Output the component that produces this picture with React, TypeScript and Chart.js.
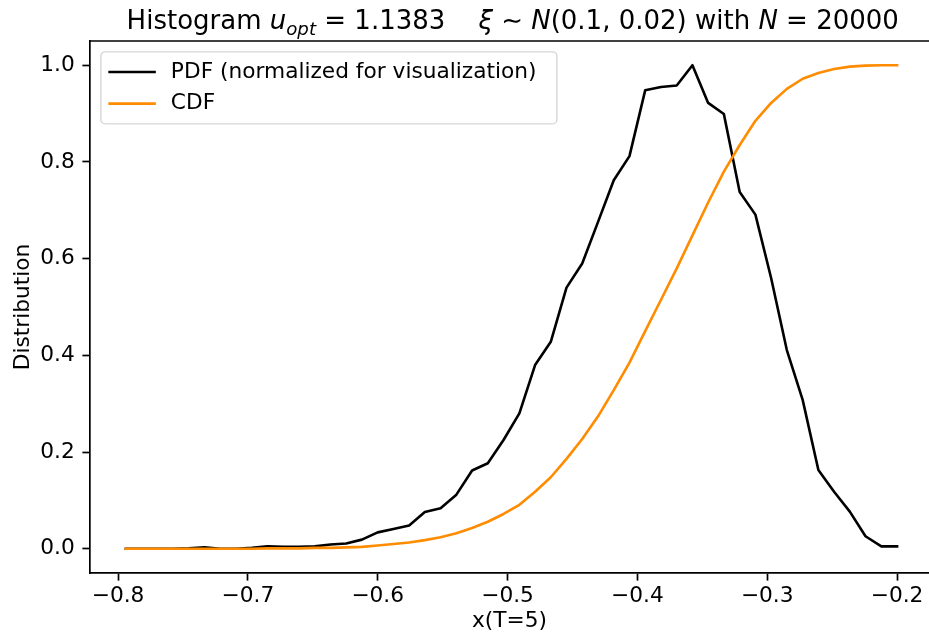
import React, { useEffect, useRef } from 'react';
import { Chart, registerables } from 'chart.js';

Chart.register(...registerables);

// ---- data ----
const xValues = [
  -0.794, -0.7819, -0.7698, -0.7576, -0.7455, -0.7334, -0.7213, -0.7091, -0.697, -0.6849,
  -0.6728, -0.6607, -0.6485, -0.6364, -0.6243, -0.6122, -0.6, -0.5879, -0.5758, -0.5637,
  -0.5516, -0.5394, -0.5273, -0.5152, -0.5031, -0.4909, -0.4788, -0.4667, -0.4546, -0.4425,
  -0.4303, -0.4182, -0.4061, -0.394, -0.3818, -0.3697, -0.3576, -0.3455, -0.3334, -0.3212,
  -0.3091, -0.297, -0.2849, -0.2727, -0.2606, -0.2485, -0.2364, -0.2243, -0.2121, -0.2,
];
const pdfValues = [
  0.0, 0.0, 0.0, 0.0, 0.001, 0.003, 0.0, 0.0, 0.002, 0.005,
  0.004, 0.004, 0.005, 0.009, 0.011, 0.019, 0.034, 0.041, 0.048, 0.076,
  0.084, 0.112, 0.162, 0.177, 0.225, 0.28, 0.38, 0.428, 0.54, 0.59,
  0.676, 0.762, 0.812, 0.948, 0.955, 0.958, 1.0, 0.922, 0.899, 0.738,
  0.691, 0.56, 0.411, 0.308, 0.163, 0.118, 0.077, 0.026, 0.005, 0.005,
];
const cdfValues = [
  0.0, 0.0, 0.0, 0.0, 0.0, 0.0, 0.0, 0.0, 0.0, 0.001,
  0.001, 0.001, 0.002, 0.002, 0.003, 0.004, 0.007, 0.01, 0.013, 0.018,
  0.024, 0.032, 0.043, 0.056, 0.072, 0.091, 0.118, 0.148, 0.186, 0.227,
  0.274, 0.328, 0.385, 0.45, 0.515, 0.58, 0.648, 0.716, 0.78, 0.835,
  0.885, 0.922, 0.951, 0.972, 0.984, 0.992, 0.997, 0.999, 1.0, 1.0,
];
const xTicks = [-0.8, -0.7, -0.6, -0.5, -0.4, -0.3, -0.2];
const yTicks = [0.0, 0.2, 0.4, 0.6, 0.8, 1.0];
const seriesLabels = ['PDF (normalized for visualization)', 'CDF'];
const seriesColors = ['#000000', '#ff8c00'];
const xLabel = 'x(T=5)';
const yLabel = 'Distribution';
const titleParts = [
  { text: 'Histogram ', italic: false, sub: false },
  { text: 'u', italic: true, sub: false },
  { text: 'opt', italic: true, sub: true },
  { text: ' = 1.1383', italic: false, sub: false },
  { text: '    ', italic: false, sub: false },
  { text: 'ξ', italic: true, sub: false },
  { text: ' ∼ ', italic: false, sub: false },
  { text: 'N', italic: true, sub: false },
  { text: '(0.1, 0.02)', italic: false, sub: false },
  { text: ' with ', italic: false, sub: false },
  { text: 'N', italic: true, sub: false },
  { text: ' = 20000', italic: false, sub: false },
];

const FONT = '"DejaVu Sans", sans-serif';
const W = 929;
const H = 634;
const FS = 21.7;

const fmt = (v: number) => v.toFixed(1).replace('-', '\u2212');

export default function App() {
  const ref = useRef<HTMLCanvasElement>(null);

  useEffect(() => {
    const canvas = ref.current;
    if (!canvas) return;

    const decorPlugin = {
      id: 'mplDecor',
      afterDraw(chart: any) {
        const ctx = chart.ctx as CanvasRenderingContext2D;
        const area = chart.chartArea;
        const xs = chart.scales.x;
        ctx.save();
        // top spine
        ctx.strokeStyle = '#000';
        ctx.lineWidth = 1.7;
        ctx.beginPath();
        ctx.moveTo(area.left - 0.85, area.top);
        ctx.lineTo(area.right, area.top);
        ctx.stroke();

        // title with math-like parts
        const tfs = 26;
        const fontFor = (p: any) => `${p.italic ? 'italic ' : ''}${p.sub ? tfs * 0.7 : tfs}px ${FONT}`;
        let total = 0;
        const widths = titleParts.map((p) => {
          ctx.font = fontFor(p);
          const w = ctx.measureText(p.text).width;
          total += w;
          return w;
        });
        const axesRight = xs.getPixelForValue(-0.2 + 0.0296);
        const cx = (area.left + axesRight) / 2;
        let x = cx - total / 2;
        const baseY = area.top - 12;
        ctx.fillStyle = '#000';
        ctx.textAlign = 'left';
        ctx.textBaseline = 'alphabetic';
        titleParts.forEach((p, i) => {
          ctx.font = fontFor(p);
          ctx.fillText(p.text, x, baseY + (p.sub ? tfs * 0.22 : 0));
          x += widths[i];
        });

        // legend
        const lx = area.left + 10.85;
        const ly = area.top + 10.85;
        const lw = 456;
        const lh = 72;
        const r = 4.3;
        ctx.beginPath();
        ctx.moveTo(lx + r, ly);
        ctx.lineTo(lx + lw - r, ly);
        ctx.arcTo(lx + lw, ly, lx + lw, ly + r, r);
        ctx.lineTo(lx + lw, ly + lh - r);
        ctx.arcTo(lx + lw, ly + lh, lx + lw - r, ly + lh, r);
        ctx.lineTo(lx + r, ly + lh);
        ctx.arcTo(lx, ly + lh, lx, ly + lh - r, r);
        ctx.lineTo(lx, ly + r);
        ctx.arcTo(lx, ly, lx + r, ly, r);
        ctx.closePath();
        ctx.fillStyle = 'rgba(255,255,255,0.8)';
        ctx.fill();
        ctx.strokeStyle = 'rgba(204,204,204,0.8)';
        ctx.lineWidth = 1.4;
        ctx.stroke();

        const rows = [ly + 20.2, ly + 51.8];
        seriesLabels.forEach((lab, i) => {
          const y = rows[i];
          ctx.strokeStyle = seriesColors[i];
          ctx.lineWidth = 2.6;
          ctx.lineCap = 'butt';
          ctx.beginPath();
          ctx.moveTo(lx + 7.5, y);
          ctx.lineTo(lx + 55, y);
          ctx.stroke();
          ctx.fillStyle = '#000';
          ctx.font = `${FS}px ${FONT}`;
          ctx.textBaseline = 'middle';
          ctx.fillText(lab, lx + 70, y);
        });
        ctx.restore();
      },
    };

    const makeData = (vals: number[]) => xValues.map((x, i) => ({ x, y: vals[i] }));

    const chart = new Chart(canvas, {
      type: 'line',
      data: {
        datasets: [
          {
            label: seriesLabels[0],
            data: makeData(pdfValues),
            borderColor: seriesColors[0],
            backgroundColor: seriesColors[0],
            borderWidth: 2.6,
            pointRadius: 0,
            tension: 0,
            borderJoinStyle: 'round',
            borderCapStyle: 'square',
            order: 1,
          },
          {
            label: seriesLabels[1],
            data: makeData(cdfValues),
            borderColor: seriesColors[1],
            backgroundColor: seriesColors[1],
            borderWidth: 2.6,
            pointRadius: 0,
            tension: 0,
            borderJoinStyle: 'round',
            borderCapStyle: 'square',
            order: 0,
          },
        ],
      },
      options: {
        animation: false,
        responsive: false,
        maintainAspectRatio: false,
        devicePixelRatio: 1,
        layout: { padding: { top: 41, left: 0, right: 0, bottom: 0 } },
        plugins: {
          legend: { display: false },
          title: { display: false },
          tooltip: { enabled: false },
        },
        scales: {
          x: {
            type: 'linear',
            min: -0.8216,
            max: -0.1754,
            afterBuildTicks: (s: any) => {
              s.ticks = xTicks.map((v) => ({ value: v }));
            },
            afterFit: (s: any) => {
              s.height = 61;
            },
            grid: {
              drawOnChartArea: false,
              drawTicks: true,
              tickLength: 7.6,
              tickWidth: 1.7,
              tickColor: '#000',
            },
            border: { display: true, color: '#000', width: 1.7 },
            ticks: {
              color: '#000',
              padding: 3,
              maxRotation: 0,
              autoSkip: false,
              font: { family: FONT, size: FS, lineHeight: 1.2 },
              callback: (v: any) => fmt(Number(v)),
            },
            title: {
              display: true,
              text: xLabel,
              color: '#000',
              font: { family: FONT, size: FS, lineHeight: 1.2 },
              padding: { top: 0, bottom: 0 },
            },
          },
          y: {
            type: 'linear',
            min: -0.05,
            max: 1.05,
            afterBuildTicks: (s: any) => {
              s.ticks = yTicks.map((v) => ({ value: v }));
            },
            afterFit: (s: any) => {
              s.width = 90;
            },
            grid: {
              drawOnChartArea: false,
              drawTicks: true,
              tickLength: 7.6,
              tickWidth: 1.7,
              tickColor: '#000',
            },
            border: { display: true, color: '#000', width: 1.7 },
            ticks: {
              color: '#000',
              padding: 7.6,
              autoSkip: false,
              font: { family: FONT, size: FS, lineHeight: 1.2 },
              callback: (v: any) => Number(v).toFixed(1),
            },
            title: {
              display: true,
              text: yLabel,
              color: '#000',
              font: { family: FONT, size: FS, lineHeight: 1.2 },
              padding: { top: 10.5, bottom: 0 },
            },
          },
        },
      } as any,
      plugins: [decorPlugin],
    });

    return () => {
      chart.destroy();
    };
  }, []);

  return (
    <div style={{ position: 'fixed', left: 0, top: 0, width: W, height: H, background: '#ffffff' }}>
      <canvas ref={ref} width={W} height={H} style={{ width: W, height: H, display: 'block' }} />
    </div>
  );
}
